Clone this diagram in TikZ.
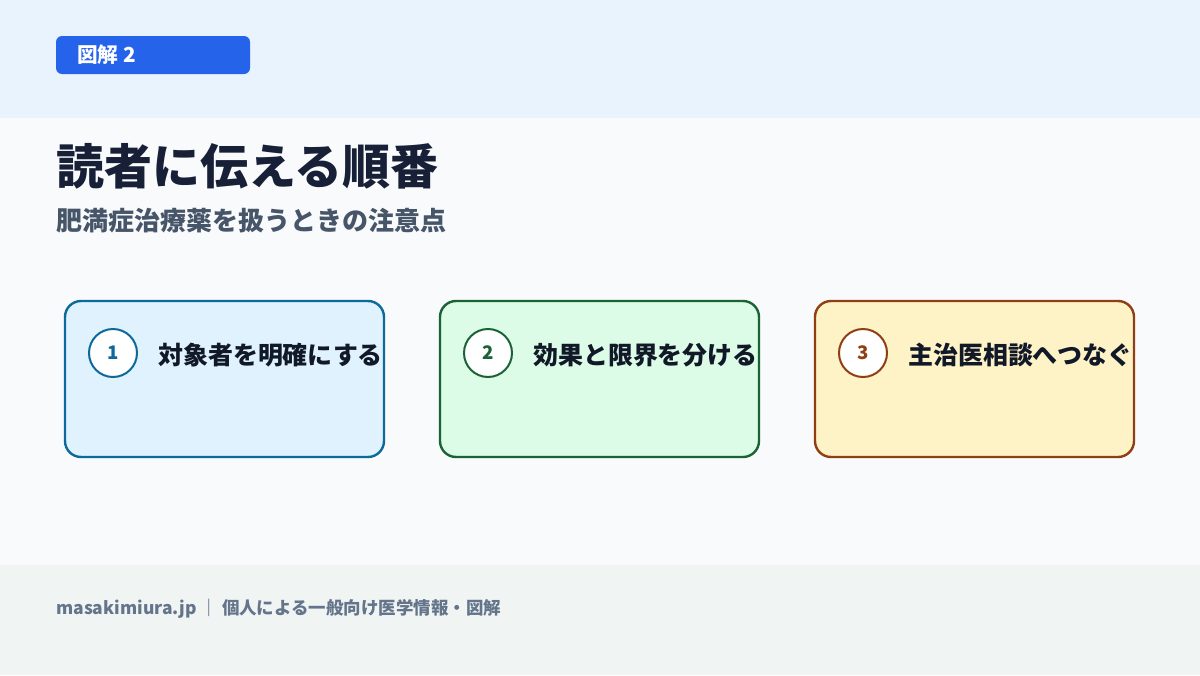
\documentclass[tikz,border=0pt]{standalone}
\usepackage{fontspec}
\setmainfont{Noto Sans CJK JP}
\usepackage{tikz}
\usepackage{xcolor}

\definecolor{bandblue}{HTML}{E8F3FD}
\definecolor{pagebg}{HTML}{F8FAFC}
\definecolor{footbg}{HTML}{F0F5F4}
\definecolor{badgeblue}{HTML}{2563EB}
\definecolor{titleink}{HTML}{172036}
\definecolor{subink}{HTML}{475569}
\definecolor{footink}{HTML}{64748B}
\definecolor{cardink}{HTML}{111827}
\definecolor{oneline}{HTML}{0B6A9A}
\definecolor{onefill}{HTML}{E0F2FE}
\definecolor{twoline}{HTML}{1B6336}
\definecolor{twofill}{HTML}{DCFCE7}
\definecolor{threeline}{HTML}{8F3F12}
\definecolor{threefill}{HTML}{FEF3C7}

\tikzset{
  card/.style={rounded corners=12pt, line width=1.8pt, minimum width=239.25pt, minimum height=117pt, inner sep=0pt},
  numring/.style={circle, fill=white, line width=1.5pt, minimum size=36pt, inner sep=0pt, font=\fontsize{14}{17}\selectfont\bfseries},
  cardtext/.style={anchor=west, inner sep=0pt, text=cardink, font=\fontsize{18.7}{22}\selectfont\bfseries}
}

\begin{document}
\begin{tikzpicture}[x=0.75pt,y=0.75pt,yscale=-1,xscale=1]
\useasboundingbox (0,0) rectangle (1200,675);

%Shape: Rectangle [page]
\fill [pagebg] (0,0) rectangle (1200,675);
%Shape: Rectangle [top band]
\fill [bandblue] (0,0) rectangle (1200,118);
%Shape: Rectangle [footer]
\fill [footbg] (0,565) rectangle (1200,675);

%Shape: Rounded Rectangle [badge]
\node [fill=badgeblue, rounded corners=4.5pt, minimum width=145.5pt, minimum height=28.5pt, inner sep=0pt] (badge) at (153,55) {};
% Text Node
\node [anchor=west, inner sep=0pt, text=white, font=\fontsize{15.5}{18}\selectfont\bfseries] (badgetext) at (77,55) {図解 2};

% Text Node
\node [anchor=west, inner sep=0pt, text=titleink, font=\fontsize{36}{42}\selectfont\bfseries] (title) at (56,166) {読者に伝える順番};
% Text Node
\node [anchor=west, inner sep=0pt, text=subink, font=\fontsize{19.5}{24}\selectfont\bfseries] (subtitle) at (56,221) {肥満症治療薬を扱うときの注意点};

%Shape: Card 1
\node [card, draw=oneline, fill=onefill] (cardone) at (224.5,379) {};
\node [numring, draw=oneline, text=oneline] (numone) at (113,353) {1};
\node [cardtext] (textone) at (158,355) {対象者を明確にする};

%Shape: Card 2
\node [card, draw=twoline, fill=twofill] (cardtwo) at (599.5,379) {};
\node [numring, draw=twoline, text=twoline] (numtwo) at (488,353) {2};
\node [cardtext] (texttwo) at (533,355) {効果と限界を分ける};

%Shape: Card 3
\node [card, draw=threeline, fill=threefill] (cardthree) at (974.5,379) {};
\node [numring, draw=threeline, text=threeline] (numthree) at (863,353) {3};
\node [cardtext] (textthree) at (908,355) {主治医相談へつなぐ};

% Text Node
\node [anchor=west, inner sep=0pt, text=footink, font=\fontsize{13.1}{15}\selectfont\bfseries] (footer) at (56,609) {masakimiura.jp ｜ 個人による一般向け医学情報・図解};

\end{tikzpicture}
\end{document}
